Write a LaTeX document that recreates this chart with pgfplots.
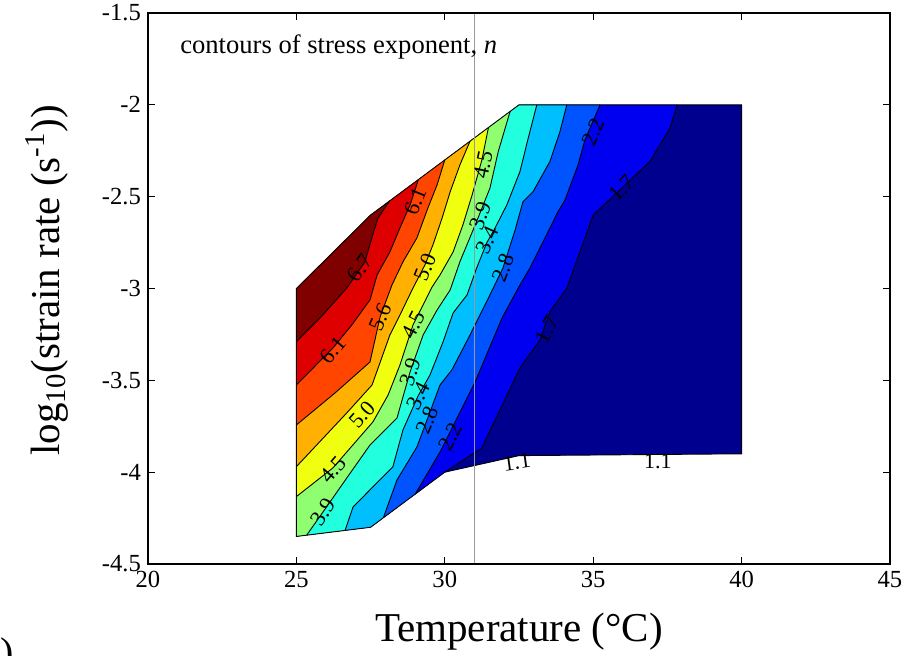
\documentclass[border=0pt]{standalone}
\usepackage{fontspec}
\setmainfont{Liberation Serif}
\usepackage{pgfplots}
\pgfplotsset{compat=1.18}
\definecolor{n0}{rgb}{0,0,0.56}
\definecolor{n1}{rgb}{0,0,0.94}
\definecolor{n2}{rgb}{0,0.33,1}
\definecolor{n3}{rgb}{0,0.75,1}
\definecolor{n4}{rgb}{0.13,1,0.87}
\definecolor{n5}{rgb}{0.56,1,0.44}
\definecolor{n6}{rgb}{0.94,1,0.06}
\definecolor{n7}{rgb}{1,0.69,0}
\definecolor{n8}{rgb}{1,0.27,0}
\definecolor{n9}{rgb}{0.87,0,0}
\definecolor{n10}{rgb}{0.5,0,0}
\begin{document}
\begin{tikzpicture}
\useasboundingbox (0,0) rectangle (453.5pt,327.5pt);
\begin{axis}[
  at={(74pt,45.5pt)}, anchor=south west,
  scale only axis, width=371pt, height=275.5pt,
  xmin=20, xmax=45, ymin=-4.5, ymax=-1.5,
  xtick={20,25,30,35,40,45},
  ytick={-4.5,-4,-3.5,-3,-2.5,-2,-1.5},
  tick align=inside, major tick length=3.7pt,
  axis line style={line width=0.8pt},
  every tick/.style={black, line width=0.6pt},
  tick label style={font=\fontsize{12.3}{14}\selectfont},
  /pgf/number format/assume math mode=true,
  no markers,
  axis on top,
  clip=false,
  xlabel={Temperature (°C)},
  ylabel={log\textsubscript{10}(strain rate (s\textsuperscript{-1}))},
  xlabel style={font=\fontsize{20.5}{24}\selectfont, at={(axis description cs:0.5,-0.1234)}, anchor=center},
  ylabel style={font=\fontsize{20.5}{24}\selectfont, at={(axis description cs:-0.136,0.515)}, anchor=center, rotate=0},
]
% regions
\addplot[fill=n0, draw=none] coordinates {(25,-3) (27.5,-2.6) (30,-2.3) (32.5,-2) (40,-2) (40,-3.9) (32.5,-3.91) (30,-4) (27.5,-4.3) (25,-4.35)} -- cycle;
\addplot[fill=n1, draw=none] coordinates {(37.83,-2.0) (37.59,-2.126) (36.91,-2.309) (35.00,-2.600) (34.11,-2.999) (33.54,-3.126) (33.21,-3.280) (32.53,-3.434) (31.86,-3.661) (31.24,-3.870) (30,-4.0) (27.5,-4.3) (25,-4.35) (25,-3) (27.5,-2.6) (30,-2.3) (32.5,-2)} -- cycle;
\addplot[fill=n2, draw=none] coordinates {(35.23,-2.0) (34.72,-2.191) (34.49,-2.327) (34.05,-2.518) (33.81,-2.583) (33.51,-2.681) (32.87,-2.888) (32.53,-2.981) (31.93,-3.160) (31.02,-3.509) (30.18,-3.781) (29.84,-3.890) (29.00,-4.12) (27.5,-4.3) (25,-4.35) (25,-3) (27.5,-2.6) (30,-2.3) (32.5,-2)} -- cycle;
\addplot[fill=n3, draw=none] coordinates {(34.11,-2.0) (33.88,-2.146) (33.54,-2.309) (32.97,-2.474) (32.63,-2.529) (32.37,-2.681) (31.96,-2.888) (31.52,-3.035) (30.85,-3.253) (30.24,-3.443) (29.84,-3.525) (29.40,-3.716) (29.06,-3.863) (28.39,-4.042) (27.93,-4.248) (27.5,-4.3) (25,-4.35) (25,-3) (27.5,-2.6) (30,-2.3) (32.5,-2)} -- cycle;
\addplot[fill=n4, draw=none] coordinates {(33.10,-2.0) (32.81,-2.182) (32.53,-2.364) (32.09,-2.545) (31.66,-2.681) (31.41,-2.752) (31.07,-2.890) (30.75,-3.035) (30.28,-3.133) (29.94,-3.291) (29.50,-3.471) (29.10,-3.585) (28.59,-3.770) (28.25,-3.971) (26.91,-4.189) (26.64,-4.317) (25,-4.35) (25,-3) (27.5,-2.6) (30,-2.3) (32.5,-2)} -- cycle;
\addplot[fill=n5, draw=none] coordinates {(32.20,-2.036) (31.80,-2.255) (31.52,-2.454) (31.07,-2.636) (30.51,-2.854) (30.18,-3.008) (29.74,-3.117) (29.27,-3.253) (28.83,-3.454) (28.39,-3.705) (27.48,-3.852) (26.70,-4.031) (25.90,-4.216) (25.35,-4.342) (25,-4.35) (25,-3) (27.5,-2.6) (30,-2.3)} -- cycle;
\addplot[fill=n6, draw=none] coordinates {(31.47,-2.124) (31.25,-2.300) (30.92,-2.491) (30.61,-2.654) (30.28,-2.801) (29.84,-2.926) (29.57,-2.992) (28.93,-3.198) (28.49,-3.416) (28.09,-3.580) (27.58,-3.726) (26.23,-3.977) (25,-4.133) (25,-3) (27.5,-2.6) (30,-2.3)} -- cycle;
\addplot[fill=n7, draw=none] coordinates {(30.85,-2.198) (30.51,-2.327) (30.18,-2.474) (29.91,-2.616) (29.60,-2.763) (29.33,-2.872) (28.93,-2.997) (28.49,-3.144) (28.15,-3.253) (27.55,-3.525) (26.70,-3.677) (25,-3.970) (25,-3) (27.5,-2.6) (30,-2.3)} -- cycle;
\addplot[fill=n8, draw=none] coordinates {(30,-2.3) (29.74,-2.436) (29.43,-2.562) (29.06,-2.725) (28.59,-2.855) (28.22,-2.981) (27.82,-3.155) (27.48,-3.400) (26.30,-3.569) (25,-3.743) (25,-3) (27.5,-2.6)} -- cycle;
\addplot[fill=n9, draw=none] coordinates {(29.11,-2.407) (28.83,-2.545) (28.49,-2.670) (28.15,-2.801) (27.72,-2.926) (27.48,-3.062) (26.87,-3.198) (26.23,-3.324) (25,-3.525) (25,-3) (27.5,-2.6)} -- cycle;
\addplot[fill=n10, draw=none] coordinates {(28.15,-2.522) (27.75,-2.616) (27.55,-2.719) (27.31,-2.855) (26.70,-2.997) (25.80,-3.160) (25,-3.289) (25,-3) (27.5,-2.6)} -- cycle;
% contour lines
\addplot[black, line width=0.45pt] coordinates {(37.83,-2.0) (37.59,-2.126) (36.91,-2.309) (35.00,-2.600) (34.11,-2.999) (33.54,-3.126) (33.21,-3.280) (32.53,-3.434) (31.86,-3.661) (31.24,-3.870) (30,-4.0)};
\addplot[black, line width=0.45pt] coordinates {(35.23,-2.0) (34.72,-2.191) (34.49,-2.327) (34.05,-2.518) (33.81,-2.583) (33.51,-2.681) (32.87,-2.888) (32.53,-2.981) (31.93,-3.160) (31.02,-3.509) (30.18,-3.781) (29.84,-3.890) (29.00,-4.12)};
\addplot[black, line width=0.45pt] coordinates {(34.11,-2.0) (33.88,-2.146) (33.54,-2.309) (32.97,-2.474) (32.63,-2.529) (32.37,-2.681) (31.96,-2.888) (31.52,-3.035) (30.85,-3.253) (30.24,-3.443) (29.84,-3.525) (29.40,-3.716) (29.06,-3.863) (28.39,-4.042) (27.93,-4.248)};
\addplot[black, line width=0.45pt] coordinates {(33.10,-2.0) (32.81,-2.182) (32.53,-2.364) (32.09,-2.545) (31.66,-2.681) (31.41,-2.752) (31.07,-2.890) (30.75,-3.035) (30.28,-3.133) (29.94,-3.291) (29.50,-3.471) (29.10,-3.585) (28.59,-3.770) (28.25,-3.971) (26.91,-4.189) (26.64,-4.317)};
\addplot[black, line width=0.45pt] coordinates {(32.20,-2.036) (31.80,-2.255) (31.52,-2.454) (31.07,-2.636) (30.51,-2.854) (30.18,-3.008) (29.74,-3.117) (29.27,-3.253) (28.83,-3.454) (28.39,-3.705) (27.48,-3.852) (26.70,-4.031) (25.90,-4.216) (25.35,-4.342)};
\addplot[black, line width=0.45pt] coordinates {(31.47,-2.124) (31.25,-2.300) (30.92,-2.491) (30.61,-2.654) (30.28,-2.801) (29.84,-2.926) (29.57,-2.992) (28.93,-3.198) (28.49,-3.416) (28.09,-3.580) (27.58,-3.726) (26.23,-3.977) (25,-4.133)};
\addplot[black, line width=0.45pt] coordinates {(30.85,-2.198) (30.51,-2.327) (30.18,-2.474) (29.91,-2.616) (29.60,-2.763) (29.33,-2.872) (28.93,-2.997) (28.49,-3.144) (28.15,-3.253) (27.55,-3.525) (26.70,-3.677) (25,-3.970)};
\addplot[black, line width=0.45pt] coordinates {(30,-2.3) (29.74,-2.436) (29.43,-2.562) (29.06,-2.725) (28.59,-2.855) (28.22,-2.981) (27.82,-3.155) (27.48,-3.400) (26.30,-3.569) (25,-3.743)};
\addplot[black, line width=0.45pt] coordinates {(29.11,-2.407) (28.83,-2.545) (28.49,-2.670) (28.15,-2.801) (27.72,-2.926) (27.48,-3.062) (26.87,-3.198) (26.23,-3.324) (25,-3.525)};
\addplot[black, line width=0.45pt] coordinates {(28.15,-2.522) (27.75,-2.616) (27.55,-2.719) (27.31,-2.855) (26.70,-2.997) (25.80,-3.160) (25,-3.289)};
% domain outline
\addplot[black, line width=0.45pt] coordinates {(25,-3) (27.5,-2.6) (30,-2.3) (32.5,-2) (40,-2) (40,-3.9) (32.5,-3.91) (30,-4) (27.5,-4.3) (25,-4.35)} -- cycle;
% vertical reference line
\addplot[gray!80, line width=0.5pt] coordinates {(31,-4.5) (31,-1.5)};
% contour labels
\begin{scope}[every node/.style={font=\fontsize{11}{12}\selectfont, inner sep=0.5pt}]
\node[rotate=55] at (axis cs:27.14,-2.888) {6.7};
\node[rotate=68] at (axis cs:29.00,-2.523) {6.1};
\node[rotate=50] at (axis cs:26.23,-3.335) {6.1};
\node[rotate=66] at (axis cs:27.82,-3.155) {5.6};
\node[rotate=68] at (axis cs:29.33,-2.883) {5.0};
\node[rotate=48] at (axis cs:27.21,-3.688) {5.0};
\node[rotate=78] at (axis cs:31.29,-2.327) {4.5};
\node[rotate=63] at (axis cs:28.93,-3.198) {4.5};
\node[rotate=49] at (axis cs:26.23,-3.988) {4.5};
\node[rotate=70] at (axis cs:31.19,-2.605) {3.9};
\node[rotate=72] at (axis cs:28.83,-3.454) {3.9};
\node[rotate=57] at (axis cs:25.90,-4.216) {3.9};
\node[rotate=66] at (axis cs:31.42,-2.736) {3.4};
\node[rotate=64] at (axis cs:29.10,-3.585) {3.4};
\node[rotate=69] at (axis cs:31.96,-2.888) {2.8};
\node[rotate=68] at (axis cs:29.40,-3.716) {2.8};
\node[rotate=67] at (axis cs:34.99,-2.148) {2.2};
\node[rotate=63] at (axis cs:30.18,-3.808) {2.2};
\node[rotate=45] at (axis cs:35.97,-2.453) {1.7};
\node[rotate=62] at (axis cs:33.44,-3.226) {1.7};
\node[rotate=8] at (axis cs:32.43,-3.945) {1.1};
\node at (axis cs:37.18,-3.94) {1.1};
\end{scope}
\node[anchor=west, font=\fontsize{13.3}{15}\selectfont] at (axis description cs:0.034,0.938) {contours of stress exponent, \textit{n}};
\end{axis}
\node[anchor=north west, inner sep=0pt, font=\fontsize{20}{24}\selectfont] at (0pt,9pt) {)};
\end{tikzpicture}
\end{document}
